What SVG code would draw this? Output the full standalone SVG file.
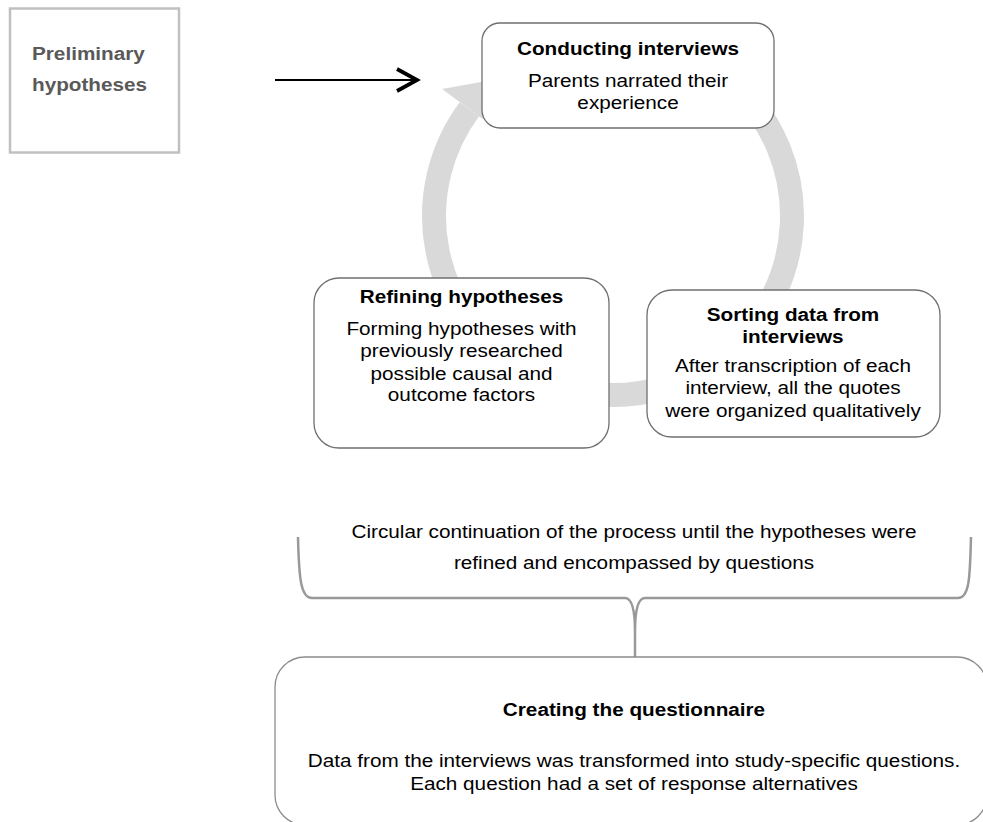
<svg xmlns="http://www.w3.org/2000/svg" width="983" height="822" viewBox="0 0 983 822">
<style>
.t{font-family:"Liberation Sans",Arial,sans-serif;font-size:18.5px;fill:#000}
.b{font-weight:bold}
.c{text-anchor:middle}
.box{fill:#fff;stroke:#6f6f6f;stroke-width:1.3}
</style>
<rect width="983" height="822" fill="#fff"/>
<g id="connectors">
  <path d="M674.2,47.8 A179,179 0 1,1 469.3,109.3" fill="none" stroke="#d9d9d9" stroke-width="24"/>
  <polygon points="442,89 492,80 492,124 478.9,116.4 459.7,102.1" fill="#d9d9d9"/>
  <line x1="275" y1="80" x2="415" y2="80" stroke="#000" stroke-width="2"/>
  <polyline points="397,69 417,80 397,91" fill="none" stroke="#000" stroke-width="3.8"/>
  <path d="M298,537 C299,580 301,598 312,598 L625,598 C632,598 635,610 635,632 L635,657 M635,632 C635,610 638,598 645,598 L958,598 C969,598 970,580 971,537" fill="none" stroke="#999" stroke-width="2.5"/>
</g>
<g id="preliminary">
  <rect x="10" y="8.5" width="169" height="144" fill="#fff" stroke="#c0c0c0" stroke-width="2.5"/>
  <g transform="translate(32 0) scale(1.12 1)" class="t b" fill="#595959">
    <text x="0" y="60" class="t b" style="fill:#595959">Preliminary</text>
    <text x="0" y="91" class="t b" style="fill:#595959">hypotheses</text>
  </g>
</g>
<g id="conducting">
  <rect class="box" x="482" y="23" width="292" height="105" rx="18"/>
  <g transform="translate(628 0) scale(1.12 1)">
    <text class="t b c" x="0" y="55">Conducting interviews</text>
    <text class="t c" x="0" y="87">Parents narrated their</text>
    <text class="t c" x="0" y="109">experience</text>
  </g>
</g>
<g id="sorting">
  <rect class="box" x="647" y="290" width="293" height="147" rx="25"/>
  <g transform="translate(793 0) scale(1.12 1)">
    <text class="t b c" x="0" y="321">Sorting data from</text>
    <text class="t b c" x="0" y="343">interviews</text>
    <text class="t c" x="0" y="372">After transcription of each</text>
    <text class="t c" x="0" y="394">interview, all the quotes</text>
    <text class="t c" x="0" y="417">were organized qualitatively</text>
  </g>
</g>
<g id="refining">
  <rect class="box" x="314" y="278" width="295" height="170" rx="25"/>
  <g transform="translate(461.5 0) scale(1.12 1)">
    <text class="t b c" x="0" y="303">Refining hypotheses</text>
    <text class="t c" x="0" y="335">Forming hypotheses with</text>
    <text class="t c" x="0" y="357">previously researched</text>
    <text class="t c" x="0" y="380">possible causal and</text>
    <text class="t c" x="0" y="401">outcome factors</text>
  </g>
</g>
<g id="continuation">
  <g transform="translate(634 0) scale(1.12 1)">
    <text class="t c" x="0" y="538">Circular continuation of the process until the hypotheses were</text>
    <text class="t c" x="0" y="569">refined and encompassed by questions</text>
  </g>
</g>
<g id="questionnaire">
  <rect x="275" y="657" width="712" height="168" rx="30" fill="#fff" stroke="#8c8c8c" stroke-width="1.3"/>
  <g transform="translate(634 0) scale(1.12 1)">
    <text class="t b c" x="0" y="716">Creating the questionnaire</text>
    <text class="t c" x="0" y="767">Data from the interviews was transformed into study-specific questions.</text>
    <text class="t c" x="0" y="790">Each question had a set of response alternatives</text>
  </g>
</g>
</svg>
